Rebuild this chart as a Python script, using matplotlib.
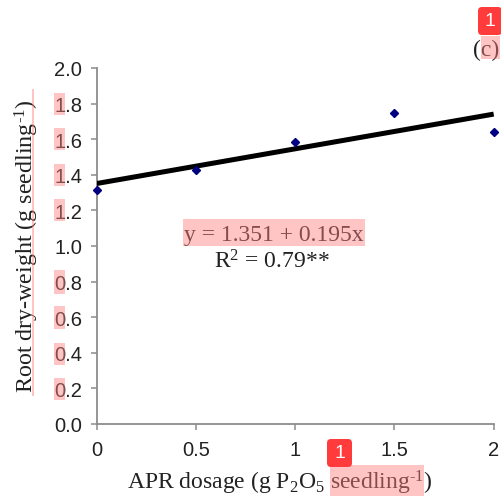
import matplotlib
matplotlib.use("Agg")
import matplotlib.pyplot as plt
from matplotlib.patches import Rectangle, FancyBboxPatch

plt.rcParams['mathtext.fontset'] = 'custom'
plt.rcParams['mathtext.rm'] = 'Liberation Serif'
plt.rcParams['mathtext.it'] = 'Liberation Serif'
plt.rcParams['mathtext.bf'] = 'Liberation Serif'
plt.rcParams['mathtext.default'] = 'rm'

dose = [0, 0.5, 1, 1.5, 2]
root_weight = [1.316, 1.427, 1.586, 1.75, 1.642]
fit_x = [0, 2]
fit_y = [1.351, 1.741]
xticks = [0, 0.5, 1, 1.5, 2]
xticklabels = ['0', '0.5', '1', '1.5', '2']
yticks = [0, 0.2, 0.4, 0.6, 0.8, 1.0, 1.2, 1.4, 1.6, 1.8, 2.0]

W = 502.0
fig = plt.figure(figsize=(5.02, 5.02), dpi=100, facecolor='white')
ax = fig.add_axes([96.7/W, 1-425/W, 397/W, 356/W])
ax.set_xlim(0, 2)
ax.set_ylim(0, 2)
for s in ('top', 'right'):
    ax.spines[s].set_visible(False)
for s in ('left', 'bottom'):
    ax.spines[s].set_color('#8c8c8c')
    ax.spines[s].set_linewidth(1.3)
ax.set_xticks(xticks, xticklabels)
ax.set_yticks(yticks, [f'{v:.1f}' for v in yticks])
ax.tick_params(axis='both', color='#8c8c8c', width=1.1, length=4.5, labelsize=14.5,
               labelcolor='#222222', labelfontfamily='Liberation Sans')
ax.tick_params(axis='y', pad=6)
ax.tick_params(axis='x', pad=7)

ax.plot(fit_x, fit_y, color='black', lw=3.6, solid_capstyle='butt', zorder=3)
ax.plot(dose, root_weight, ls='none', marker='D', ms=3.6, color='#000080', clip_on=False, zorder=4)

serif = dict(family='Liberation Serif', color='#222222')
def px(x, y):
    return x/W, 1-y/W

fig.text(*px(280, 483), r'APR dosage (g P$_2$O$_5$ seedling$^{\text{-}1}$)', ha='center', va='center', fontsize=17, **serif)
fig.text(*px(27, 246), r'Root dry-weight (g seedling$^{\text{-}1}$)', rotation=90, ha='center', va='center', fontsize=17.3, **serif)
fig.text(*px(486, 50), '(c)', ha='center', va='center', fontsize=17, **serif)
fig.text(*px(274, 236), 'y = 1.351 + 0.195x', ha='center', va='center', fontsize=17, **serif)
fig.text(*px(272, 262), r'R$^2$ = 0.79**', ha='center', va='center', fontsize=17, **serif)

highlights = [
    (54, 94, 65, 116), (54, 129, 65, 151), (54, 165, 65, 187), (54, 200, 65, 222),
    (54, 271, 65, 295), (54, 307, 65, 330), (54, 344, 65, 366), (54, 379, 65, 401),
    (32, 90, 34, 397), (183, 220, 365, 247), (481, 37, 500, 60), (330, 466, 424, 497),
]
for x0, y0, x1, y1 in highlights:
    fig.add_artist(Rectangle((x0/W, 1-y1/W), (x1-x0)/W, (y1-y0)/W, transform=fig.transFigure,
                             facecolor='#ff8080', alpha=0.45, edgecolor='none', zorder=10))

badges = [(478, 8, 502, 36), (327, 440, 352, 468)]
for x0, y0, x1, y1 in badges:
    fig.add_artist(FancyBboxPatch(((x0+4)/W, 1-(y1-4)/W), (x1-x0-8)/W, (y1-y0-8)/W,
                                  boxstyle=f'round,pad={4/W},rounding_size={4/W}',
                                  transform=fig.transFigure, facecolor='#ff3b3b', edgecolor='none', zorder=11))
    fig.text((x0+x1)/2/W, 1-(y0+y1)/2/W, '1', ha='center', va='center', color='white',
             fontsize=14, family='Liberation Sans', zorder=12)

fig.savefig('out.png', dpi=100)
